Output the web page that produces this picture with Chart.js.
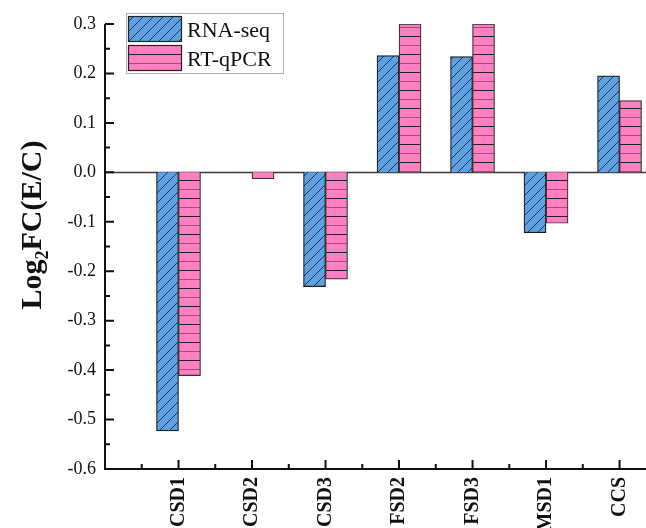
<!DOCTYPE html>
<html><head><meta charset="utf-8">
<script src="https://cdn.jsdelivr.net/npm/chart.js@4.4.1/dist/chart.umd.min.js"></script>
<style>html,body{margin:0;padding:0;background:#fff;overflow:hidden}#wrap{width:646px;height:528px;position:relative}</style>
</head><body><div id="wrap"><canvas id="c" width="646" height="528"></canvas></div>
<script>
const categories = ['CSD1', 'CSD2', 'CSD3', 'FSD2', 'FSD3', 'MSD1', 'CCS'];
const rnaSeq = [-0.523, null, -0.231, 0.236, 0.234, -0.122, 0.195];
const rtqPCR = [-0.411, -0.013, -0.216, 0.300, 0.300, -0.103, 0.145];
const seriesNames = ['RNA-seq', 'RT-qPCR'];
const yMin = -0.6, yMax = 0.3, yStep = 0.1;
const yTitleMain = 'Log', yTitleSub = '2', yTitleRest = 'FC(E/C)';

const SERIF = '"Times New Roman","Liberation Serif",serif';

function makePattern(kind) {
  const c = document.createElement('canvas');
  const g = c.getContext('2d');
  if (kind === 'diag') {
    c.width = 10; c.height = 10;
    g.fillStyle = '#5FA0E2'; g.fillRect(0, 0, 10, 10);
    g.strokeStyle = '#1d3550'; g.lineWidth = 1;
    g.beginPath();
    g.moveTo(-2, 12); g.lineTo(12, -2);
    g.moveTo(-12, 12); g.lineTo(2, -2);
    g.moveTo(8, 12); g.lineTo(22, -2);
    g.stroke();
  } else {
    c.width = 4; c.height = 18;
    g.fillStyle = '#FF80C0'; g.fillRect(0, 0, 4, 18);
    g.fillStyle = '#222'; g.fillRect(0, 0, 4, 1);
    g.fillStyle = '#a44a7c'; g.fillRect(0, 9, 4, 1);
  }
  return g.createPattern(c, 'repeat');
}
const blueFill = makePattern('diag');
const pinkFill = makePattern('horiz');

const decor = {
  id: 'decor',
  beforeDatasetsDraw(chart) {
    const { ctx, chartArea: a, scales: { y } } = chart;
    const y0 = Math.round(y.getPixelForValue(0)) + 0.5;
    ctx.save();
    ctx.strokeStyle = '#3a3a3a'; ctx.lineWidth = 1.5;
    ctx.beginPath(); ctx.moveTo(a.left, y0); ctx.lineTo(a.right, y0); ctx.stroke();
    ctx.restore();
  },
  afterDraw(chart) {
    const { ctx, chartArea: a, scales: { x, y } } = chart;
    ctx.save();
    ctx.strokeStyle = '#111'; ctx.lineWidth = 2;
    ctx.beginPath();
    ctx.moveTo(a.left, a.top); ctx.lineTo(a.left, a.bottom); ctx.lineTo(a.right, a.bottom);
    const n = Math.round((yMax - yMin) / (yStep / 2));
    for (let k = 0; k <= n; k++) {
      const v = yMin + k * yStep / 2;
      const py = y.getPixelForValue(v);
      ctx.moveTo(a.left, py); ctx.lineTo(a.left + (k % 2 === 0 ? 9 : 5), py);
    }
    for (let k = -1; k <= categories.length; k += 0.5) {
      const px = x.getPixelForValue(k);
      if (px <= a.left + 1 || px > a.right) continue;
      const major = Number.isInteger(k);
      ctx.moveTo(px, a.bottom); ctx.lineTo(px, a.bottom - (major ? 9 : 5));
    }
    ctx.stroke();

    // y axis title
    ctx.fillStyle = '#111';
    ctx.textBaseline = 'alphabetic';
    const big = 'bold 30px ' + SERIF, small = 'bold 18px ' + SERIF;
    ctx.font = big; const w1 = ctx.measureText(yTitleMain).width, w3 = ctx.measureText(yTitleRest).width;
    ctx.font = small; const w2 = ctx.measureText(yTitleSub).width;
    const total = w1 + w2 + w3;
    ctx.translate(31, 225);
    ctx.rotate(-Math.PI / 2);
    let sx = -total / 2;
    ctx.font = big; ctx.fillText(yTitleMain, sx, 10); sx += w1;
    ctx.font = small; ctx.fillText(yTitleSub, sx, 17); sx += w2;
    ctx.font = big; ctx.fillText(yTitleRest, sx, 10);
    ctx.restore();

    // legend
    ctx.save();
    ctx.strokeStyle = '#b0b0b0'; ctx.lineWidth = 1;
    ctx.strokeRect(126.5, 13.5, 157, 60);
    const fills = [blueFill, pinkFill];
    for (let i = 0; i < 2; i++) {
      const top = 16 + i * 29;
      ctx.fillStyle = fills[i];
      ctx.fillRect(128, top, 53, 25);
      ctx.strokeStyle = '#222'; ctx.lineWidth = 1.2;
      ctx.strokeRect(128.5, top + 0.5, 53, 25);
      ctx.fillStyle = '#111';
      ctx.font = '22px ' + SERIF;
      ctx.textBaseline = 'alphabetic';
      ctx.fillText(chart.data.datasets[i].label, 187, top + 21);
    }
    ctx.restore();
  }
};

new Chart(document.getElementById('c'), {
  type: 'bar',
  data: {
    datasets: [
      {
        label: seriesNames[0],
        data: rnaSeq.map((v, i) => ({ x: i, y: v })),
        backgroundColor: blueFill, borderColor: '#1a1a1a', borderWidth: 1.2,
        barThickness: 22
      },
      {
        label: seriesNames[1],
        data: rtqPCR.map((v, i) => ({ x: i, y: v })),
        backgroundColor: pinkFill, borderColor: '#333', borderWidth: 1.2,
        barThickness: 22
      }
    ]
  },
  options: {
    responsive: false,
    animation: false,
    devicePixelRatio: 1,
    layout: { padding: { top: 24, left: 0, right: 0, bottom: 0 } },
    plugins: { legend: { display: false }, tooltip: { enabled: false } },
    scales: {
      x: {
        type: 'linear',
        offset: false,
        min: -1, max: 6.36,
        grid: { display: false, drawTicks: false, offset: false },
        border: { display: false },
        ticks: {
          stepSize: 1, autoSkip: false, minRotation: 90, maxRotation: 90, padding: 8,
          color: '#111', font: { family: SERIF, size: 20, weight: 'bold' },
          callback: v => (Number.isInteger(v) && v >= 0 && v < categories.length) ? categories[v] : ''
        },
        afterFit: s => { s.height = 59; s.paddingLeft = 0; s.paddingRight = 0; }
      },
      y: {
        min: yMin, max: yMax,
        grid: { display: false, drawTicks: false },
        border: { display: false },
        ticks: {
          stepSize: yStep, padding: 9, color: '#111',
          font: { family: SERIF, size: 18 },
          callback: v => Math.abs(v) < 1e-9 ? '0.0' : v.toFixed(1)
        },
        afterFit: s => { s.width = 105; }
      }
    }
  },
  plugins: [decor]
});
</script></body></html>
